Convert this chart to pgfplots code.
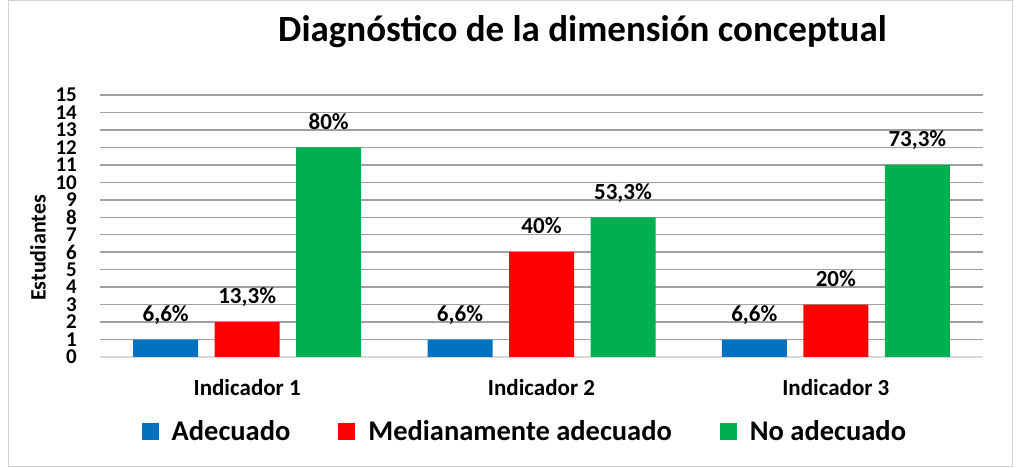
\documentclass[border=0pt]{standalone}
\usepackage{pgfplots}
\pgfplotsset{compat=1.18}
\usepackage{fontspec}
\setmainfont{Carlito}
\definecolor{cblue}{HTML}{0070C0}
\definecolor{cred}{HTML}{FF0000}
\definecolor{cgreen}{HTML}{00B050}
\definecolor{gridc}{HTML}{A0A0A0}
\definecolor{axisc}{HTML}{D9D9D9}
\definecolor{framec}{HTML}{D0D0D0}
\pgfplotsset{sq legend/.style={legend image code/.code={\fill[##1] (0pt,-9pt) rectangle (17pt,8pt);}}}
\begin{document}
\begin{tikzpicture}
\path[use as bounding box] (0,0) rectangle (1018pt,468pt);
\draw[framec, line width=1pt] (8pt,1pt) rectangle (1012pt,467pt);
\begin{axis}[
  at={(100pt,111pt)}, anchor=south west,
  scale only axis, width=883pt, height=262pt,
  ybar=16.5pt, bar width=65pt,
  xmin=0.5, xmax=3.5, ymin=0, ymax=15,
  xtick={1,2,3}, xticklabels={Indicador 1,Indicador 2,Indicador 3},
  ytick={0,1,...,15},
  ymajorgrids, major grid style={draw=gridc, line width=1.5pt},
  major tick length=0pt,
  axis x line*=bottom, axis y line*=left,
  y axis line style={draw=none},
  x axis line style={draw=axisc, line width=2.5pt, -},
  /pgf/number format/assume math mode=true,
  yticklabel style={font=\fontsize{21}{21}\selectfont\bfseries, anchor=east, inner sep=0pt, xshift=-23pt},
  xticklabel style={font=\fontsize{23}{23}\selectfont\bfseries, anchor=base, inner sep=0pt, yshift=-39pt},
  title={Diagnóstico de la dimensión conceptual},
  title style={font=\fontsize{37}{37}\selectfont\bfseries, at={(axis description cs:0.5464,1.183)}, anchor=base, inner sep=0pt},
  ylabel={Estudiantes},
  ylabel style={font=\fontsize{22}{22}\selectfont\bfseries, at={(axis description cs:-0.0702,0.416)}, anchor=center, inner sep=0pt},
  nodes near coords, point meta=explicit symbolic,
  every node near coord/.append style={font=\fontsize{23}{23}\selectfont\bfseries, inner sep=0pt, text depth=0pt, yshift=18pt, anchor=south},
  legend columns=3,
  legend style={at={(axis description cs:0.480,-0.282)}, anchor=center, draw=none, fill=none,
    font=\fontsize{28.5}{28.5}\selectfont\bfseries,
    nodes={inner sep=0pt},
    /tikz/every odd column/.append style={column sep=13pt},
    /tikz/every even column/.append style={column sep=48pt}},
]
\addplot[fill=cblue, draw=none, sq legend] table[meta=lab] {
x y lab
1 1 6,6\%
2 1 6,6\%
3 1 6,6\%
};
\addplot[fill=cred, draw=none, sq legend] table[meta=lab] {
x y lab
1 2 13,3\%
2 6 40\%
3 3 20\%
};
\addplot[fill=cgreen, draw=none, sq legend] table[meta=lab] {
x y lab
1 12 80\%
2 8 53,3\%
3 11 73,3\%
};
\legend{Adecuado, Medianamente adecuado, No adecuado}
\end{axis}
\end{tikzpicture}
\end{document}
